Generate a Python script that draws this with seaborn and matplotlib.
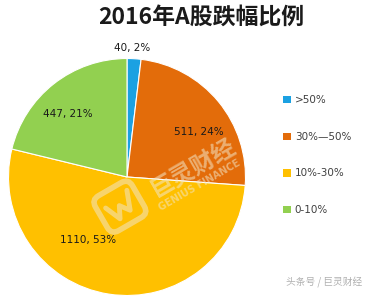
import matplotlib
matplotlib.use("Agg")
import matplotlib.pyplot as plt
import matplotlib.transforms as mtransforms
import seaborn as sns
from matplotlib.patches import Patch, FancyBboxPatch

sns.set_theme(style="white")
plt.rcParams['font.family'] = ['Noto Sans CJK SC', 'DejaVu Sans']

categories = [">50%", "30%—50%", "10%-30%", "0-10%"]
counts = [40, 511, 1110, 447]
percents = [2, 24, 53, 21]
colors = ["#1ba1e2", "#e36c0a", "#ffc000", "#92d050"]
title = "2016年A股跌幅比例"

# label placements (fraction of radius, relative to pie centre)
label_pos = [(0.04, 1.09), (0.61, 0.38), (-0.33, -0.53), (-0.50, 0.53)]

W, H = 371, 299
fig = plt.figure(figsize=(W / 100, H / 100), dpi=100)
fig.patch.set_facecolor("white")

cx, cy, r = 127, 177, 118.5
ax = fig.add_axes([(cx - r) / W, (H - cy - r) / H, 2 * r / W, 2 * r / H])
wedges, _ = ax.pie(counts, colors=colors, startangle=90, counterclock=False,
                   radius=1.0, wedgeprops=dict(linewidth=0.8, edgecolor="white"))
ax.set_xlim(-1, 1)
ax.set_ylim(-1, 1)
ax.set_aspect("equal")
ax.axis("off")

for (x, y), c, p in zip(label_pos, counts, percents):
    ax.text(x, y, f"{c}, {p}%", ha="center", va="center", fontsize=7.5,
            color="#1a1a1a", family=["DejaVu Sans"], clip_on=False, zorder=5)

# watermark
wm = "#f2e6c8"
ax.text(0.56, 0.08, "巨灵财经", rotation=30, fontsize=17, color=wm, alpha=0.55,
        ha="center", va="center", fontweight="bold", zorder=4)
ax.text(0.61, -0.07, "GENIUS FINANCE", rotation=30, fontsize=7, color=wm, alpha=0.55,
        ha="center", va="center", fontweight="bold", family=["DejaVu Sans"], zorder=4)
rot = mtransforms.Affine2D().rotate_deg_around(-0.06, -0.25, 30) + ax.transData
logo = FancyBboxPatch((-0.22, -0.40), 0.32, 0.30, boxstyle="round,pad=0.02,rounding_size=0.07",
                      facecolor="none", edgecolor=wm, linewidth=4, alpha=0.55,
                      transform=rot, zorder=4)
ax.add_patch(logo)
ax.plot([-0.17, -0.11, -0.06, 0.00, 0.06], [-0.20, -0.34, -0.24, -0.32, -0.16], color=wm,
        linewidth=3.5, alpha=0.55, transform=rot, zorder=4, solid_capstyle="round")

fig.text(201 / W, 1 - 17 / H, title, ha="center", va="center", fontsize=16.5,
         fontweight="bold", color="#1a1a1a")

handles = [Patch(facecolor=c, edgecolor="none") for c in colors]
leg = fig.legend(handles, categories, loc="upper left", bbox_to_anchor=(274 / W, 1 - 86 / H),
                 frameon=False, labelspacing=2.55, handlelength=0.7,
                 handleheight=0.7, handletextpad=0.4, prop={"family": ["DejaVu Sans"], "size": 7.5})
for t in leg.get_texts():
    t.set_color("#404040")

fig.text(362 / W, 1 - 283 / H, "头条号 / 巨灵财经", ha="right", va="center", fontsize=7,
         color="#b0b0b0")

fig.savefig("out.png", dpi=100, facecolor="white")
